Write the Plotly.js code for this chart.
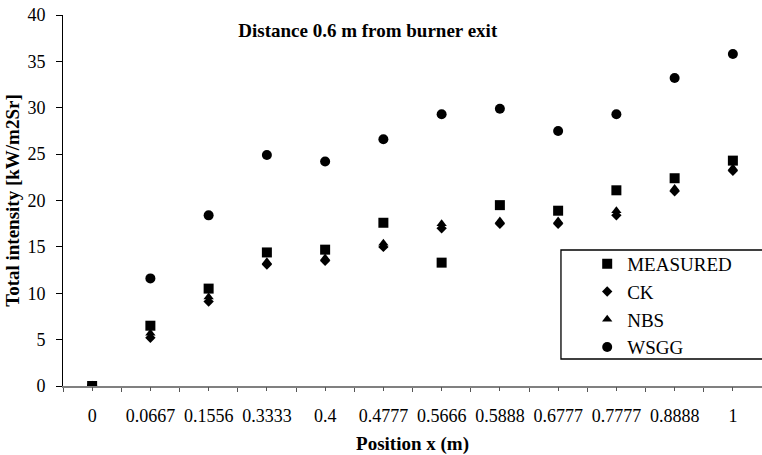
<!DOCTYPE html>
<html>
<head>
<meta charset="utf-8">
<script src="https://cdn.plot.ly/plotly-3.0.1.min.js"></script>
<style>
  html, body { margin: 0; padding: 0; background: #ffffff; }
  #chart { width: 762px; height: 455px; }
</style>
</head>
<body>
<div id="chart"></div>
<script>
// Radial positions across the flame (m), shown as categories
const positions = ['0', '0.0667', '0.1556', '0.3333', '0.4', '0.4777', '0.5666',
                   '0.5888', '0.6777', '0.7777', '0.8888', '1'];

// Total intensity, kW/m2Sr
const measured = [0, 6.5, 10.5, 14.4, 14.7, 17.6, 13.3, 19.5, 18.9, 21.1, 22.4, 24.3];
const ck       = [0, 5.2, 9.1, 13.1, 13.5, 15.0, 17.0, 17.5, 17.5, 18.4, 21.0, 23.2];
const nbs      = [0, 5.7, 9.6, 13.4, 13.8, 15.4, 17.5, 17.8, 17.8, 18.9, 21.3, 23.5];
const wsgg     = [0, 11.6, 18.4, 24.9, 24.2, 26.6, 29.3, 29.9, 27.5, 29.3, 33.2, 35.8];

const yTicks = [0, 5, 10, 15, 20, 25, 30, 35, 40];

const serif = "'Liberation Serif', 'Times New Roman', serif";

function series(name, y, symbol, size, rank, xaxis) {
  return {
    type: 'scatter', mode: 'markers', name: name,
    x: positions, y: y,
    xaxis: xaxis || 'x', yaxis: 'y',
    legendrank: rank,
    marker: { symbol: symbol, size: size, color: '#000000', line: { width: 0 } },
    hoverinfo: 'x+y+name'
  };
}

// Measured points sit on the overlay axis so they are drawn on top
const traces = [
  series('CK', ck, 'diamond', 8, 2),
  series('NBS', nbs, 'triangle-up', 9, 3),
  series('WSGG', wsgg, 'circle', 10, 4),
  series('MEASURED', measured, 'square', 10, 1, 'x2')
];

const layout = {
  width: 762, height: 455,
  margin: { l: 63, r: 0, t: 15, b: 69 },
  paper_bgcolor: '#ffffff', plot_bgcolor: '#ffffff',
  font: { family: serif, size: 18, color: '#000000' },
  showlegend: true,
  title: {
    text: '<b>Distance 0.6 m from burner exit</b>',
    font: { family: serif, size: 19, color: '#000000' },
    xref: 'paper', x: 0.436, xanchor: 'center',
    yref: 'container', y: 0.934, yanchor: 'middle'
  },
  xaxis: {
    type: 'category', categoryorder: 'array', categoryarray: positions,
    range: [-0.5, positions.length - 0.5],
    tickson: 'boundaries', ticks: 'outside', ticklen: 4, tickwidth: 1, tickcolor: '#555555',
    showline: true, linecolor: '#808080', linewidth: 2,
    showgrid: false, zeroline: false, layer: 'below traces',
    tickangle: 0,
    tickfont: { family: serif, size: 18, color: '#000000' },
    ticklabelstandoff: 12,
    title: { text: '<b>Position x (m)</b>', font: { family: serif, size: 19, color: '#000000' }, standoff: 15 },
    fixedrange: true
  },
  // second category axis: ticks at the category centres
  xaxis2: {
    type: 'category', categoryorder: 'array', categoryarray: positions,
    overlaying: 'x', matches: 'x', side: 'bottom',
    ticks: 'outside', ticklen: 4, tickwidth: 1, tickcolor: '#555555',
    showticklabels: false, showline: false, showgrid: false, zeroline: false,
    layer: 'below traces', fixedrange: true
  },
  yaxis: {
    range: [0, 40], tickmode: 'array', tickvals: yTicks,
    ticks: 'outside', ticklen: 6, tickwidth: 1, tickcolor: '#000000',
    showline: true, linecolor: '#000000', linewidth: 1,
    showgrid: false, zeroline: false, layer: 'below traces',
    tickfont: { family: serif, size: 18, color: '#000000' },
    ticklabelstandoff: 7,
    title: { text: '<b>Total intensity [kW/m2Sr]</b>', font: { family: serif, size: 19, color: '#000000' }, standoff: 2 },
    fixedrange: true
  },
  legend: {
    x: 0.7628, xanchor: 'left', y: 0.38, yanchor: 'top',
    bgcolor: 'rgba(0,0,0,0)', borderwidth: 0,
    font: { family: serif, size: 19, color: '#000000' },
    indentation: -9,
    traceorder: 'normal'
  },
  // legend frame, running off the right edge
  shapes: [{
    type: 'rect', xref: 'paper', yref: 'paper',
    x0: 0.7124, x1: 1.05, y0: 0.0728, y1: 0.3666,
    line: { color: '#000000', width: 1.3 }, fillcolor: 'rgba(0,0,0,0)'
  }]
};

Plotly.newPlot('chart', traces, layout, { displayModeBar: false, staticPlot: true });
</script>
</body>
</html>
